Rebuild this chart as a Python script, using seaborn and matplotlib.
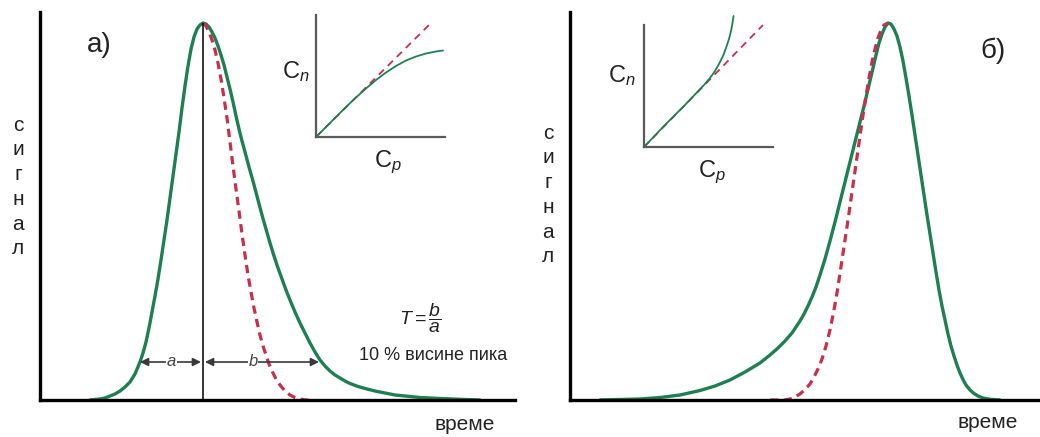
import numpy as np
import pandas as pd
import matplotlib
matplotlib.use("Agg")
import matplotlib.pyplot as plt
import seaborn as sns

# ---------------- data ----------------
# panel a) tailing peak : time (arb.), signal (arb.)
a_green_t = [50, 55, 60, 65, 70, 75, 80, 85, 90, 95, 100, 103, 106, 109, 112, 115, 118, 121, 124, 127,
             130, 133, 136, 139, 142, 145, 148, 151, 154, 157, 160, 163,
             166, 169, 172, 175, 178, 181, 184, 187, 190, 193, 196, 199, 202, 205, 209, 213, 218, 222,
             226, 230, 234, 238, 242, 246, 250, 255, 260, 265, 270, 275, 280, 285, 290, 295, 300, 305,
             310, 318, 327, 335, 345, 355, 365, 380, 400, 420, 440]
a_green_s = [0, 0.5, 1, 2, 4, 6, 9, 13, 18, 26, 38, 47, 58, 72, 88, 104, 121, 140, 160, 180,
             202, 224, 246, 268, 292, 314, 334, 351, 363, 371, 375, 377,
             376, 373, 368, 362, 354, 345, 335, 323, 311, 298, 284, 271, 259, 248, 233, 219, 200, 185,
             171, 157, 144, 132, 121, 110, 100, 88, 77, 67, 57, 48, 40, 34, 29, 25, 22, 19,
             16.5, 13.5, 11, 9, 7, 5, 4, 2.5, 1.5, 0.7, 0]
a_red_t = [163, 166, 169, 172, 175, 178, 181, 184, 187, 190, 193, 196, 199, 202, 205, 208, 211, 214, 217,
           220, 223, 226, 229, 232, 236, 240, 245, 250, 255, 260, 265, 272]
a_red_s = [377, 374, 368, 360, 350, 337, 321, 302, 282, 258, 234, 211, 189, 166, 145, 125, 108, 92, 78,
           65, 54, 45, 36, 29, 21, 15, 9, 5, 2.5, 1, 0, 0]

# panel b) fronting peak
b_green_t = [30, 50, 70, 90, 110, 130, 145, 160, 175, 190, 200, 208, 215, 222, 226, 230, 234, 238, 242,
             246, 250, 255, 260, 265, 270, 275, 280, 285, 290, 295, 299, 303, 306, 309, 312, 315, 318,
             321, 324, 327, 330, 333, 336, 339, 342, 345, 348, 351, 354, 357, 360, 363, 366, 369, 372,
             375, 378, 381, 384, 387, 390, 393, 396, 400, 404, 408, 413, 420, 430]
b_green_s = [0, 0.5, 1, 2.5, 5, 9.5, 14, 20, 28, 37, 45, 52, 59, 67, 73, 79, 86, 94, 103,
             113, 125, 141, 159, 178, 198, 218, 238, 258, 278, 298, 315, 332, 345, 357, 366, 373, 377,
             376, 371, 364, 353, 339, 322, 304, 285, 265, 245, 225, 205, 185, 166, 147, 128, 110, 94,
             80, 66, 54, 44, 35, 27, 20.5, 15, 10, 6.5, 4, 2, 0.7, 0]
b_red_t = [200, 215, 220, 225, 230, 235, 240, 244, 248, 252, 256, 260, 263, 266, 269, 272, 275, 278, 281,
           284, 287, 290, 293, 296, 299, 302, 305, 308, 311, 314, 318]
b_red_s = [0, 0, 1, 3, 6, 10.5, 16, 23, 31, 41, 54, 70, 85, 101, 120, 140, 160, 180, 201,
           222, 243, 264, 285, 304, 322, 338, 351, 362, 370, 375, 377]

# insets: calibration curves C_n vs C_p
ia_green_x = [0, 10, 20, 30, 40, 50, 60, 70, 80, 90, 100, 110, 120, 127]
ia_green_y = [0, 10, 20, 30, 39.5, 48.5, 57, 64.5, 71, 76.5, 80.5, 83.5, 85.5, 86.5]
ia_red_x = [0, 116]
ia_red_y = [0, 115]
ib_green_x = [0, 10, 20, 30, 40, 50, 60, 66, 71, 75, 79, 82, 85, 87, 88.5, 89.5]
ib_green_y = [0, 10.5, 21, 31, 41, 51.5, 62, 69, 76, 83, 91, 99, 108, 116, 124, 131]
ib_red_x = [0, 119]
ib_red_y = [0, 122]

# markers of 10 % peak height (panel a)
a_level = 38
a_left, a_peak, a_right = 100, 163, 279

# ---------------- style ----------------
sns.set_theme(style="white")
plt.rcParams['font.family'] = ['Liberation Sans', 'DejaVu Sans']
plt.rcParams['mathtext.fontset'] = 'custom'
plt.rcParams['mathtext.rm'] = 'Liberation Sans'
plt.rcParams['mathtext.it'] = 'Liberation Sans:italic'

GREEN = '#1f7f52'
RED = '#c5304c'
W, H = 1040, 437

fig = plt.figure(figsize=(10.4, 4.37), dpi=100)


def rect(x0, x1, ytop, ybot):
    return [x0 / W, 1 - ybot / H, (x1 - x0) / W, (ybot - ytop) / H]


def style_main(ax, xmax):
    ax.set_xlim(0, xmax)
    ax.set_ylim(0, 388)
    for s in ['top', 'right']:
        ax.spines[s].set_visible(False)
    for s in ['left', 'bottom']:
        ax.spines[s].set_color('black')
        ax.spines[s].set_linewidth(2.4)
    ax.set_xticks([])
    ax.set_yticks([])
    ax.set_xlabel('')
    ax.set_ylabel('')
    ax.patch.set_alpha(0)


def style_inset(ax, xmax, ymax, ybound):
    ax.set_xlim(0, xmax)
    ax.set_ylim(0, ymax)
    for s in ['top', 'right']:
        ax.spines[s].set_visible(False)
    for s in ['left', 'bottom']:
        ax.spines[s].set_color('#5a5a5a')
        ax.spines[s].set_linewidth(1.6)
    ax.spines['left'].set_bounds(0, ybound)
    ax.set_xticks([])
    ax.set_yticks([])
    ax.set_xlabel('')
    ax.set_ylabel('')
    ax.patch.set_alpha(0)


dash = (0, (2.6, 1.7))
line_kw = dict(sort=False, estimator=None)

# ----- panel a -----
axa = fig.add_axes(rect(40, 515, 12, 400))
sns.lineplot(x=a_green_t, y=a_green_s, ax=axa, color=GREEN, lw=2.4, **line_kw)
sns.lineplot(x=a_red_t, y=a_red_s, ax=axa, color=RED, lw=2.3, linestyle=dash, **line_kw)
axa.vlines(a_peak, 0, max(a_green_s), color='black', lw=1.1)
style_main(axa, 475)
arrow_kw = dict(arrowstyle='<|-|>', color='#3a3a3a', lw=1.2, mutation_scale=12, shrinkA=0, shrinkB=0)
axa.annotate('', xy=(a_left, a_level), xytext=(a_peak - 2, a_level), arrowprops=arrow_kw)
axa.annotate('', xy=(a_peak + 2, a_level), xytext=(a_right, a_level), arrowprops=arrow_kw)
axa.text((a_left + a_peak) / 2, a_level, 'a', style='italic', fontsize=12, ha='center', va='center',
         color='#444444', bbox=dict(fc='white', ec='none', pad=0.5))
axa.text(213, a_level, 'b', style='italic', fontsize=12, ha='center', va='center',
         color='#444444', bbox=dict(fc='white', ec='none', pad=0.5))

# inset a
ia = fig.add_axes(rect(316, 445, 15, 137))
sns.lineplot(x=ia_red_x, y=ia_red_y, ax=ia, color=RED, lw=1.3, linestyle=(0, (4, 3)), **line_kw)
sns.lineplot(x=ia_green_x, y=ia_green_y, ax=ia, color=GREEN, lw=1.3, **line_kw)
style_inset(ia, 129, 122, 122)

# ----- panel b -----
axb = fig.add_axes(rect(570, 1040, 12, 400))
sns.lineplot(x=b_green_t, y=b_green_s, ax=axb, color=GREEN, lw=2.4, **line_kw)
sns.lineplot(x=b_red_t, y=b_red_s, ax=axb, color=RED, lw=2.3, linestyle=dash, **line_kw)
style_main(axb, 470)

ib = fig.add_axes(rect(644, 773, 15, 147))
sns.lineplot(x=ib_red_x, y=ib_red_y, ax=ib, color=RED, lw=1.3, linestyle=(0, (4, 3)), **line_kw)
sns.lineplot(x=ib_green_x, y=ib_green_y, ax=ib, color=GREEN, lw=1.3, **line_kw)
style_inset(ib, 129, 132, 122)

# ----- texts -----
def ftext(x, y, s, **kw):
    fig.text(x / W, 1 - y / H, s, ha='center', va='center', color='#222222', **kw)

ftext(99, 45, 'а)', fontsize=20)
ftext(993, 51, 'б)', fontsize=20)
ftext(18, 187, 'с\nи\nг\nн\nа\nл', fontsize=15, linespacing=1.38)
ftext(548, 195, 'с\nи\nг\nн\nа\nл', fontsize=15, linespacing=1.38)
ftext(465, 424, 'време', fontsize=15)
ftext(988, 422, 'време', fontsize=15)
ftext(296, 72, r'C$_{\mathit{n}}$', fontsize=17)
ftext(388, 162, r'C$_{\mathit{p}}$', fontsize=17)
ftext(622, 76, r'C$_{\mathit{n}}$', fontsize=17)
ftext(712, 172, r'C$_{\mathit{p}}$', fontsize=17)
ftext(420, 318, r'$T=\dfrac{b}{a}$', fontsize=14)
ftext(433, 355, '10 % висине пика', fontsize=13)

fig.savefig('out.png', dpi=100)
